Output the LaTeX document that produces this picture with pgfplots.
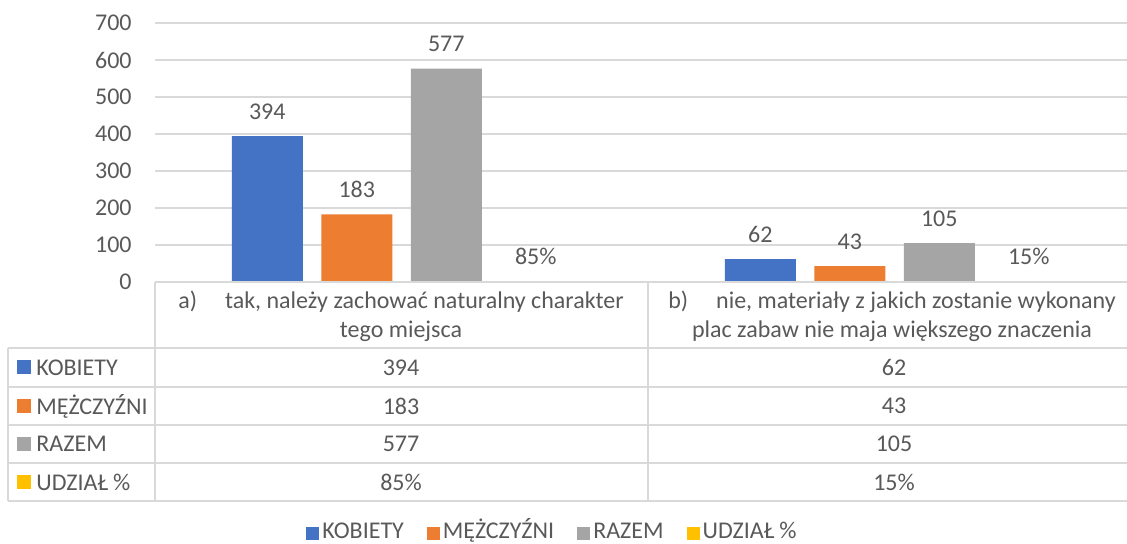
\documentclass[border=0pt]{standalone}
\usepackage{fontspec}
\setmainfont{Carlito}
\usepackage{pgfplots}
\pgfplotsset{compat=1.18}

\definecolor{cKob}{HTML}{4472C4}
\definecolor{cMez}{HTML}{ED7D31}
\definecolor{cRaz}{HTML}{A5A5A5}
\definecolor{cUdz}{HTML}{FFC000}
\definecolor{txt}{HTML}{595959}
\definecolor{grd}{HTML}{D9D9D9}

\pgfplotsset{sqlegend/.style={legend image code/.code={\fill[##1] (0pt,-3.5pt) rectangle (6.5pt,3pt);}}}

\begin{document}
\begin{tikzpicture}[font=\fontsize{12}{14.5}\selectfont, text=txt]

% plot area: 1px = 0.5pt, lower left corner of the plot box at (0,0)
\begin{axis}[
    at={(0,0)}, anchor=south west,
    scale only axis, width=493pt, height=129.5pt,
    xmin=-0.5, xmax=1.5,
    ymin=0, ymax=700,
    ytick={0,100,...,700},
    xtick=\empty,
    ybar=9.25pt, bar width=35.5pt,
    axis line style={draw=none},
    ymajorgrids, grid style={grd, line width=0.75pt},
    major tick length=0pt,
    yticklabel style={anchor=east, inner sep=0pt, xshift=-11.5pt, text=txt},
    /pgf/number format/assume math mode=true,
    nodes near coords,
    nodes near coords style={anchor=base, inner sep=0pt, yshift=8.5pt, text=txt},
    clip=false,
    legend columns=4,
    legend style={at={(axis description cs:0.4037,-0.969)}, anchor=center,
        draw=none, fill=none, text=txt,
        nodes={inner sep=1.5pt, text height=8.5pt, text depth=2.5pt},
        /tikz/every even column/.append style={column sep=10pt}},
]
\addplot[fill=cKob, draw=none, sqlegend] coordinates {(0,394) (1,62)};
\addplot[fill=cMez, draw=none, sqlegend] coordinates {(0,183) (1,43)};
\addplot[fill=cRaz, draw=none, sqlegend] coordinates {(0,577) (1,105)};
\addplot[fill=cUdz, draw=none, sqlegend, point meta=explicit symbolic]
    coordinates {(0,0.85) [85\%] (1,0.15) [15\%]};
\legend{KOBIETY, MĘŻCZYŹNI, RAZEM, UDZIAŁ \%}
\end{axis}

% data table under the plot, in pixel units of the reference
\begin{scope}[x=0.5pt, y=-0.5pt, shift={(-155,-282)}]
  \draw[grd, line width=0.9pt] (155,282) -- (1141,282);
  \foreach \yy in {348,387,425,463,501}
    \draw[grd, line width=0.9pt] (8,\yy) -- (1141,\yy);
  \draw[grd, line width=0.9pt] (8,348) -- (8,501);
  \foreach \xx in {155,648,1141}
    \draw[grd, line width=0.9pt] (\xx,282) -- (\xx,501);

  \node[align=center] at (401,316) {a)\hspace{14pt}tak, należy zachować naturalny charakter\\tego miejsca};
  \node[align=center] at (892,316) {b)\hspace{14pt}nie, materiały z jakich zostanie wykonany\\plac zabaw nie maja większego znaczenia};

  \foreach \yy/\cc/\lab/\va/\vb in {367.5/cKob/KOBIETY/394/62,
                                     406/cMez/MĘŻCZYŹNI/183/43,
                                     444/cRaz/RAZEM/577/105,
                                     482/cUdz/UDZIAŁ \%/85\%/15\%} {
    \fill[\cc] (17,\yy-7) rectangle (31,\yy+7);
    \node[anchor=west, inner sep=0pt] at (36,\yy) {\lab};
    \node at (401,\yy) {\va};
    \node at (894,\yy) {\vb};
  }

  \pgfresetboundingbox
  \useasboundingbox (0,0) rectangle (1127,544);
\end{scope}
\end{tikzpicture}
\end{document}
